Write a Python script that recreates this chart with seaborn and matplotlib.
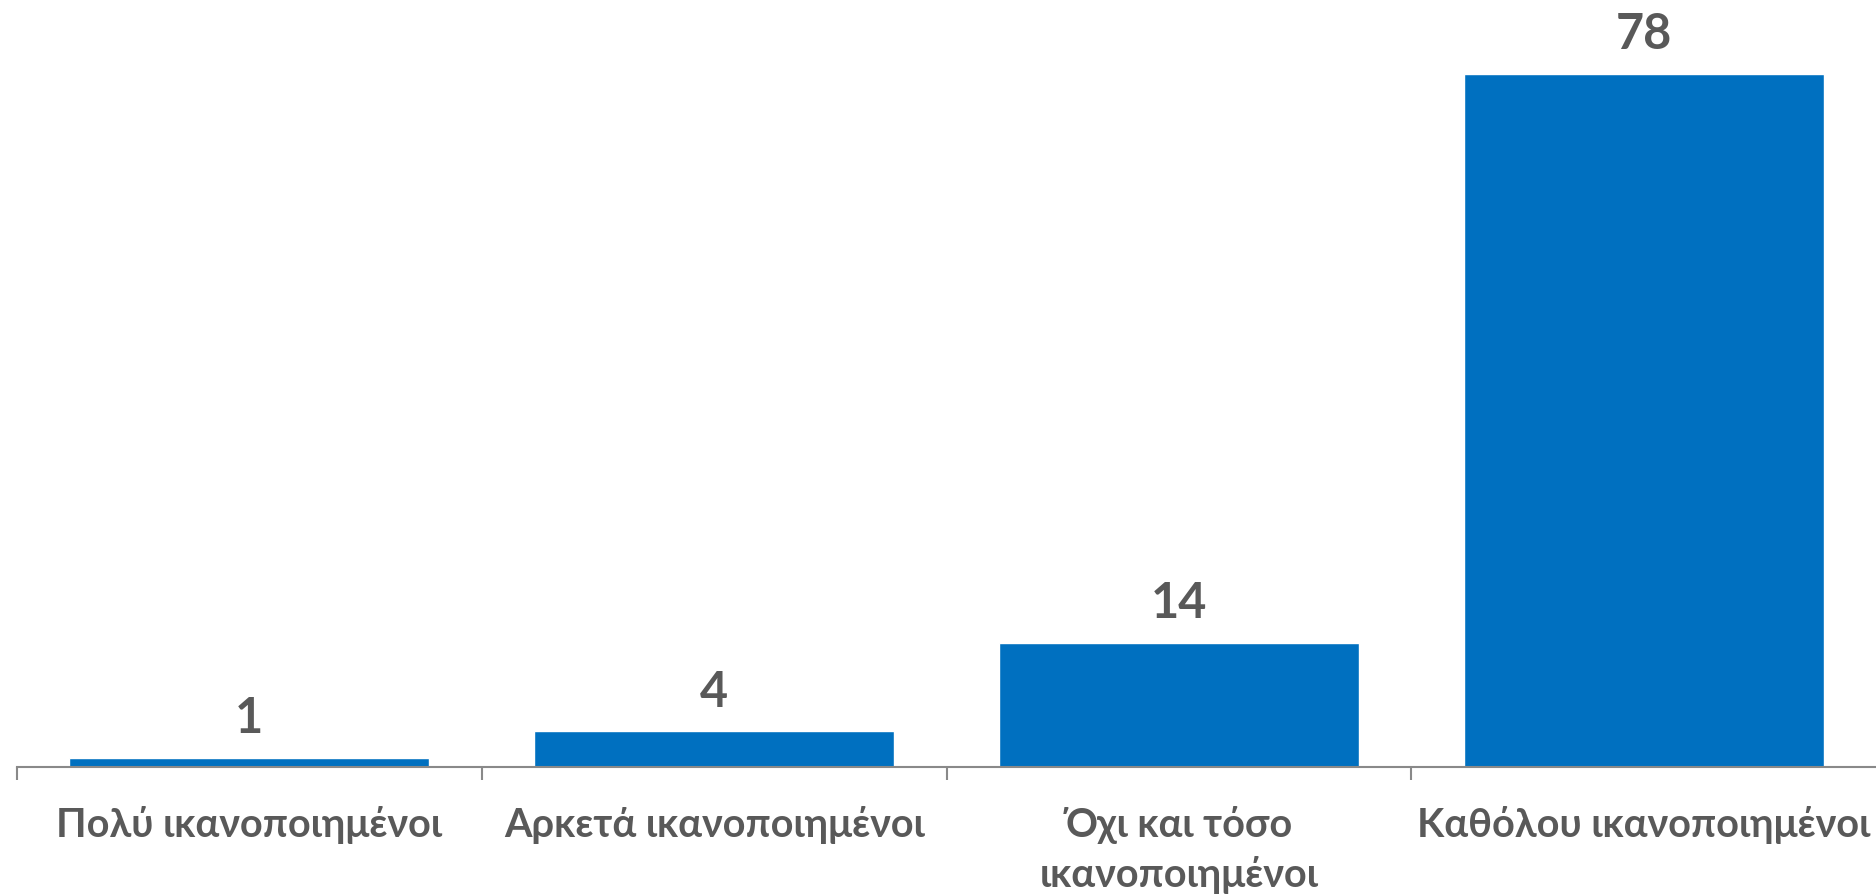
import matplotlib
matplotlib.use('Agg')
import matplotlib.pyplot as plt
import seaborn as sns
import pandas as pd

# andmed
categories = ['Πολύ ικανοποιημένοι', 'Αρκετά ικανοποιημένοι', 'Όχι και τόσο\nικανοποιημένοι',
              'Καθόλου ικανοποιημένοι']
values = [1, 4, 14, 78]

bar_color = '#0070C0'
text_color = '#595959'
axis_color = '#898989'

sns.set_style('white')
plt.rcParams['font.family'] = ['Lato', 'Noto Sans', 'DejaVu Sans']

df = pd.DataFrame({'category': categories, 'value': values})

fig = plt.figure(figsize=(18.76, 8.96), dpi=100)
ax = fig.add_axes([17 / 1876, 1 - 767 / 896, 1 - 17 / 1876, 767 / 896])

sns.barplot(data=df, x='category', y='value', color=bar_color, saturation=1, width=0.775, ax=ax)

ax.set_xlim(-0.5, 3.5)
ax.set_ylim(0, 86.3)

# väärtuste annotatsioonid
for patch, val in zip(ax.patches, values):
    ax.annotate(str(val), (patch.get_x() + patch.get_width() / 2., patch.get_height()),
                xytext=(0, 12), textcoords='offset points', ha='center', va='bottom',
                fontsize=35, fontweight='bold', color=text_color)

for side in ['left', 'right', 'top']:
    ax.spines[side].set_visible(False)
ax.spines['bottom'].set_color(axis_color)
ax.spines['bottom'].set_linewidth(1.5)

ax.set_yticks([])
ax.set_xlabel('')
ax.set_ylabel('')
ax.set_xticks(range(len(categories)))
ax.set_xticklabels(categories, fontsize=28.5, fontweight='bold', color=text_color, linespacing=1.4,
                   va='top')
ax.tick_params(axis='x', which='major', length=0, pad=28)
ax.set_xticks([-0.5, 0.5, 1.5, 2.5], minor=True)
ax.tick_params(axis='x', which='minor', length=9, width=1.5, color=axis_color, direction='out', bottom=True)

fig.savefig('out.png', dpi=100)
